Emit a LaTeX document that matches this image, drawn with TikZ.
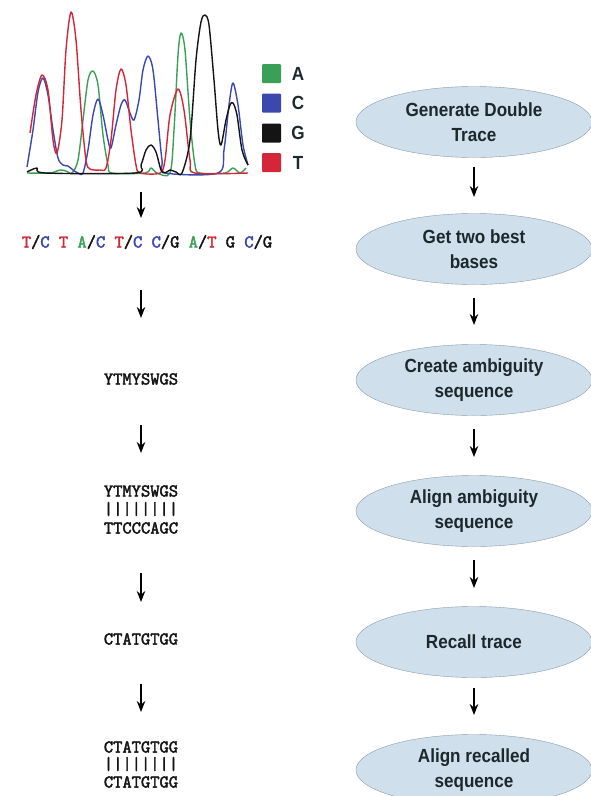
\documentclass[tikz,border=0pt]{standalone}
\usepackage{fontspec}
\setsansfont{Liberation Sans}[FakeStretch=0.9]
\newfontfamily\seqfont{Latin Modern Mono}[FakeBold=2.5]
\usetikzlibrary{arrows.meta,shapes.geometric}

\definecolor{baseA}{RGB}{58,160,88}
\definecolor{baseC}{RGB}{58,72,176}
\definecolor{baseG}{RGB}{20,20,20}
\definecolor{baseT}{RGB}{212,38,56}
\definecolor{stepfill}{RGB}{207,223,236}
\definecolor{stepline}{RGB}{140,155,165}
\definecolor{steptext}{RGB}{28,40,44}

\newcommand{\bA}{\textcolor{baseA}{A}}
\newcommand{\bC}{\textcolor{baseC}{C}}
\newcommand{\bG}{\textcolor{baseG}{G}}
\newcommand{\bT}{\textcolor{baseT}{T}}

\tikzset{
  stepnode/.style={ellipse, draw=stepline, fill=stepfill, minimum width=236pt,
    minimum height=71pt, inner sep=0pt, align=center, text=steptext,
    font=\sffamily\bfseries\fontsize{19}{25}\selectfont},
  seqnode/.style={inner sep=0pt, text=baseG, font=\seqfont\fontsize{18}{18}\selectfont},
  keynode/.style={inner sep=0pt, text=steptext, font=\sffamily\bfseries\fontsize{19}{19}\selectfont},
  arr/.style={line width=1.4pt, -{Stealth[length=11pt,width=8.5pt]}},
  trace/.style={line width=1.4pt, line join=round}
}

\begin{document}
\begin{tikzpicture}[x=1pt, y=-1pt]
  \useasboundingbox (0,0) rectangle (590,796);

  % chromatogram
  \draw[trace, baseA] plot[smooth, tension=0.5] coordinates {(27,173) (50,173) (60,170) (66,171) (72,173)
    (78,160) (83,120) (88,80) (93,71) (98,85) (103,135) (108,165) (112,173) (145,173) (151,168)
    (157,173) (170,173) (174,130) (178,55) (181,33) (185,50) (190,120) (195,165) (200,173)
    (225,173) (233,168) (240,173) (246,168)};
  \draw[trace, baseC] plot[smooth, tension=0.5] coordinates {(27,167) (33,130) (38,92) (43,78) (48,95)
    (53,130) (58,158) (63,165) (68,166) (73,170) (78,173) (83,173) (88,150) (93,115) (98,99)
    (103,115) (108,140) (111,148) (116,125) (121,105) (125,100) (130,113) (134,120) (139,100)
    (143,70) (148,56) (153,70) (158,120) (162,160) (166,173) (218,173) (224,150) (229,105)
    (233,83) (238,105) (243,145) (248,165)};
  \draw[trace, baseT] plot[smooth, tension=0.5] coordinates {(30,133) (36,95) (42,75) (48,90) (53,140)
    (57,153) (62,120) (66,50) (71,12) (76,40) (81,110) (86,160) (90,169) (100,170) (106,168)
    (111,140) (116,90) (121,69) (126,85) (131,130) (136,165) (140,173) (160,173) (165,160)
    (170,115) (178,89) (184,110) (190,160) (195,173) (248,173)};
  \draw[trace, baseG] plot[smooth, tension=0.5] coordinates {(27,172) (37,168) (45,173) (135,173)
    (141,165) (146,150) (151,145) (156,152) (161,170) (165,173) (170,170) (176,172) (182,173)
    (190,140) (196,60) (201,22) (205,15) (209,25) (214,80) (218,130) (221,145) (226,120)
    (230,105) (233,103) (237,115) (242,150) (248,165)};

  % key
  \foreach \b/\y in {A/73.5, C/103, G/133, T/162.5} {
    \node[fill=base\b, minimum size=19pt, inner sep=0pt, rounded corners=1pt] (key\b) at (271.5,\y) {};
    \node[keynode] (lab\b) at (298,\y) {\b};
  }

  % left column
  \coordinate (chrom) at (141,173);
  \node[seqnode] (s1) at (147,242) {\bT/\bC{} \bT{} \bA/\bC{} \bT/\bC{} \bC/\bG{} \bA/\bT{} \bG{} \bC/\bG};
  \node[seqnode] (s2) at (141,379) {YTMYSWGS};
  \node[seqnode] (s3a) at (141,491) {YTMYSWGS};
  \node[seqnode] (s3) at (141,509) {||||||||};
  \node[seqnode] (s3b) at (141,528) {TTCCCAGC};
  \node[seqnode] (s4) at (141,639) {CTATGTGG};
  \node[seqnode] (s5a) at (141,747) {CTATGTGG};
  \node[seqnode] (s5) at (141,764) {||||||||};
  \node[seqnode] (s5b) at (141,782) {CTATGTGG};

  \draw[arr, shorten <=19pt, shorten >=24pt] (chrom) -- (chrom |- s1.center);
  \draw[arr, shorten <=48pt, shorten >=61pt] (s1.center -| s2) -- (s2.center);
  \draw[arr, shorten <=46pt, shorten >=56pt] (s2.center) -- (s3.center);
  \draw[arr, shorten <=64pt, shorten >=37pt] (s3.center) -- (s4.center);
  \draw[arr, shorten <=45pt, shorten >=52pt] (s4.center) -- (s5.center);

  % right column
  \node[stepnode] (e1) at (474,122) {Generate Double\\Trace};
  \node[stepnode] (e2) at (474,249) {Get two best\\bases};
  \node[stepnode] (e3) at (474,380) {Create ambiguity\\sequence};
  \node[stepnode] (e4) at (474,511) {Align ambiguity\\sequence};
  \node[stepnode] (e5) at (474,642) {Recall trace};
  \node[stepnode] (e6) at (474,770) {Align recalled\\sequence};

  \draw[arr, shorten <=45pt, shorten >=52pt] (e1.center) -- (e2.center);
  \draw[arr, shorten <=49pt, shorten >=55pt] (e2.center) -- (e3.center);
  \draw[arr, shorten <=49pt, shorten >=54pt] (e3.center) -- (e4.center);
  \draw[arr, shorten <=49pt, shorten >=54pt] (e4.center) -- (e5.center);
  \draw[arr, shorten <=46pt, shorten >=55pt] (e5.center) -- (e6.center);
\end{tikzpicture}
\end{document}
